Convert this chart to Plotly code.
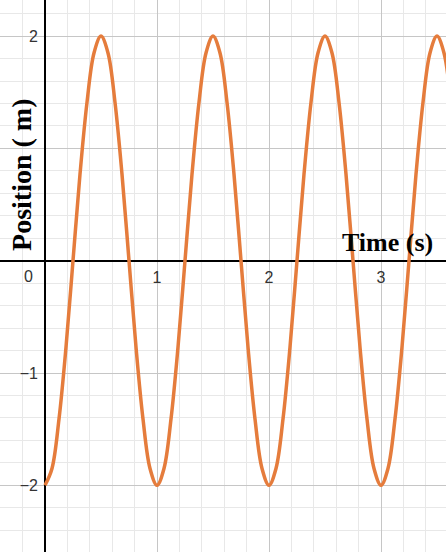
import plotly.graph_objects as go

# Data (position vs time)
time_s = [0, 0.0625, 0.125, 0.1875, 0.25, 0.3125, 0.375, 0.4375,
          0.5, 0.5625, 0.625, 0.6875, 0.75, 0.8125, 0.875, 0.9375,
          1.0, 1.0625, 1.125, 1.1875, 1.25, 1.3125, 1.375, 1.4375,
          1.5, 1.5625, 1.625, 1.6875, 1.75, 1.8125, 1.875, 1.9375,
          2.0, 2.0625, 2.125, 2.1875, 2.25, 2.3125, 2.375, 2.4375,
          2.5, 2.5625, 2.625, 2.6875, 2.75, 2.8125, 2.875, 2.9375,
          3.0, 3.0625, 3.125, 3.1875, 3.25, 3.3125, 3.375, 3.4375,
          3.5, 3.5625, 3.625, 3.6875]
position_m = [-2, -1.85, -1.41, -0.77, 0, 0.77, 1.41, 1.85,
              2, 1.85, 1.41, 0.77, 0, -0.77, -1.41, -1.85,
              -2, -1.85, -1.41, -0.77, 0, 0.77, 1.41, 1.85,
              2, 1.85, 1.41, 0.77, 0, -0.77, -1.41, -1.85,
              -2, -1.85, -1.41, -0.77, 0, 0.77, 1.41, 1.85,
              2, 1.85, 1.41, 0.77, 0, -0.77, -1.41, -1.85,
              -2, -1.85, -1.41, -0.77, 0, 0.77, 1.41, 1.85,
              2, 1.85, 1.41, 0.77]

x_tickvals = [0, 1, 2, 3]
x_ticktext = ["", "1", "2", "3"]
y_tickvals = [-2, -1, 0, 1, 2]
y_ticktext = ["\u22122", "\u22121", "", "", "2"]

W, H = 446, 552
x0_px, xunit = 45.0, 112.0
y0_px, yunit = 260.7, 112.3
x_range = [-x0_px / xunit, (W - x0_px) / xunit]
y_range = [-(H - y0_px) / yunit, y0_px / yunit]

fig = go.Figure()
fig.add_trace(go.Scatter(
    x=time_s, y=position_m, mode="lines",
    line=dict(color="#E57C3C", width=3.5, shape="spline", smoothing=1.0),
    hoverinfo="skip", showlegend=False,
))

tickfont = dict(family="Liberation Sans, Arial, sans-serif", size=16, color="#333333")
serif = "Liberation Serif, Times New Roman, serif"

fig.update_layout(
    width=W, height=H,
    margin=dict(l=0, r=0, t=0, b=0),
    paper_bgcolor="white", plot_bgcolor="white",
    xaxis=dict(
        range=x_range, tickmode="array", tickvals=x_tickvals, ticktext=x_ticktext,
        showgrid=True, gridcolor="#c6c6c6", gridwidth=1,
        minor=dict(tickmode="linear", tick0=0, dtick=0.2, showgrid=True,
                   gridcolor="#e8e8e8", gridwidth=1),
        zeroline=True, zerolinecolor="#000000", zerolinewidth=1.5,
        showline=False, ticks="", tickfont=tickfont,
        anchor="free", position=(H - y0_px) / H, ticklabelstandoff=5,
        fixedrange=True,
    ),
    yaxis=dict(
        range=y_range, tickmode="array", tickvals=y_tickvals, ticktext=y_ticktext,
        showgrid=True, gridcolor="#c6c6c6", gridwidth=1,
        minor=dict(tickmode="linear", tick0=0, dtick=0.2, showgrid=True,
                   gridcolor="#e8e8e8", gridwidth=1),
        zeroline=True, zerolinecolor="#000000", zerolinewidth=1.5,
        showline=False, ticks="", tickfont=tickfont,
        anchor="free", position=x0_px / W, ticklabelstandoff=7,
        fixedrange=True,
    ),
    annotations=[
        dict(x=0, y=0, xref="x", yref="y", text="0", showarrow=False,
             xanchor="center", yanchor="middle", xshift=-17, yshift=-16,
             font=tickfont),
        dict(x=3.054, y=0.158, xref="x", yref="y", text="<b>Time (s)</b>",
             showarrow=False, xanchor="center", yanchor="middle",
             font=dict(family=serif, size=26, color="black")),
        dict(x=-0.215, y=0.763, xref="x", yref="y", text="<b>Position ( m)</b>",
             showarrow=False, textangle=-90, xanchor="center", yanchor="middle",
             font=dict(family=serif, size=28, color="black")),
    ],
)

fig.write_html("out.html", config={"displayModeBar": False},
               post_script="document.body.style.margin='0';")
